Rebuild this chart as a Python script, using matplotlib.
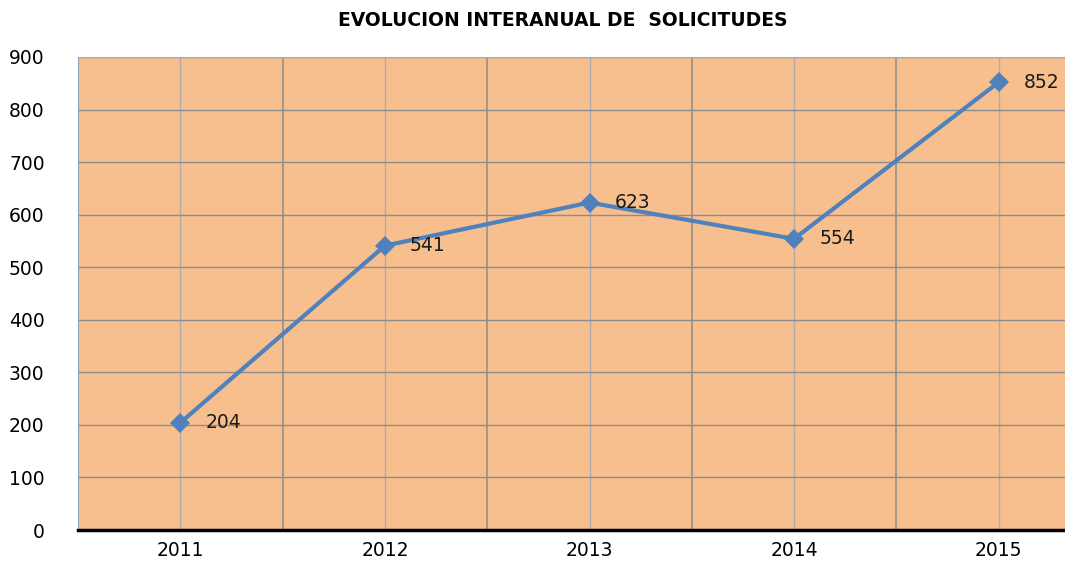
import matplotlib.pyplot as plt
from matplotlib.ticker import FixedLocator

years = ['2011', '2012', '2013', '2014', '2015']
solicitudes = [204, 541, 623, 554, 852]
y_ticks = [0, 100, 200, 300, 400, 500, 600, 700, 800, 900]

fig = plt.figure(figsize=(10.65, 5.62), dpi=100)
W, H = 1065.0, 562.0
# plot area runs past the right edge of the canvas
ax = fig.add_axes([78 / W, 1 - 530 / H, (1101 - 78) / W, (530 - 57) / H])
ax.set_facecolor('#F8BF8E')

x = list(range(len(years)))
ax.plot(x, solicitudes, color='#4F81BD', lw=3, marker='D', ms=10,
        markeredgewidth=0, zorder=3, clip_on=False)
for xi, v in zip(x, solicitudes):
    ax.annotate(str(v), (xi, v), xytext=(18, 0), textcoords='offset points',
                ha='left', va='center', fontsize=13.5, color='#1a1a1a',
                annotation_clip=False)

ax.set_xlim(-0.5, len(years) - 0.5)
ax.set_ylim(0, 900)
ax.set_yticks(y_ticks)
ax.set_yticklabels([str(t) for t in y_ticks], fontsize=13.5)

# category boundaries as major ticks, category centres as minor ticks
ax.xaxis.set_major_locator(FixedLocator([i - 0.5 for i in range(1, len(years))]))
ax.xaxis.set_minor_locator(FixedLocator(x))
ax.set_xticklabels([], minor=False)
ax.set_xticklabels(years, minor=True, fontsize=13.5)
ax.tick_params(axis='x', which='both', length=0, pad=8)
ax.tick_params(axis='y', length=0, pad=24)

ax.grid(axis='y', color='#8C8C8C', lw=1)
ax.grid(axis='x', which='major', color='#8C8C8C', lw=1.1)
ax.grid(axis='x', which='minor', color='#ABABB0', lw=1)
ax.set_axisbelow(True)

ax.spines['bottom'].set_color('black')
ax.spines['bottom'].set_linewidth(2.5)
ax.spines['bottom'].set_zorder(4)
ax.spines['top'].set_color('#8EB4E3')
ax.spines['left'].set_color('#8EA4C0')
ax.spines['right'].set_visible(False)

fig.text(563 / W, 1 - 21 / H, 'EVOLUCION INTERANUAL DE  SOLICITUDES',
         ha='center', va='center', fontsize=13.5, fontweight='bold',
         family='DejaVu Sans')

fig.savefig('out.png', dpi=100)
